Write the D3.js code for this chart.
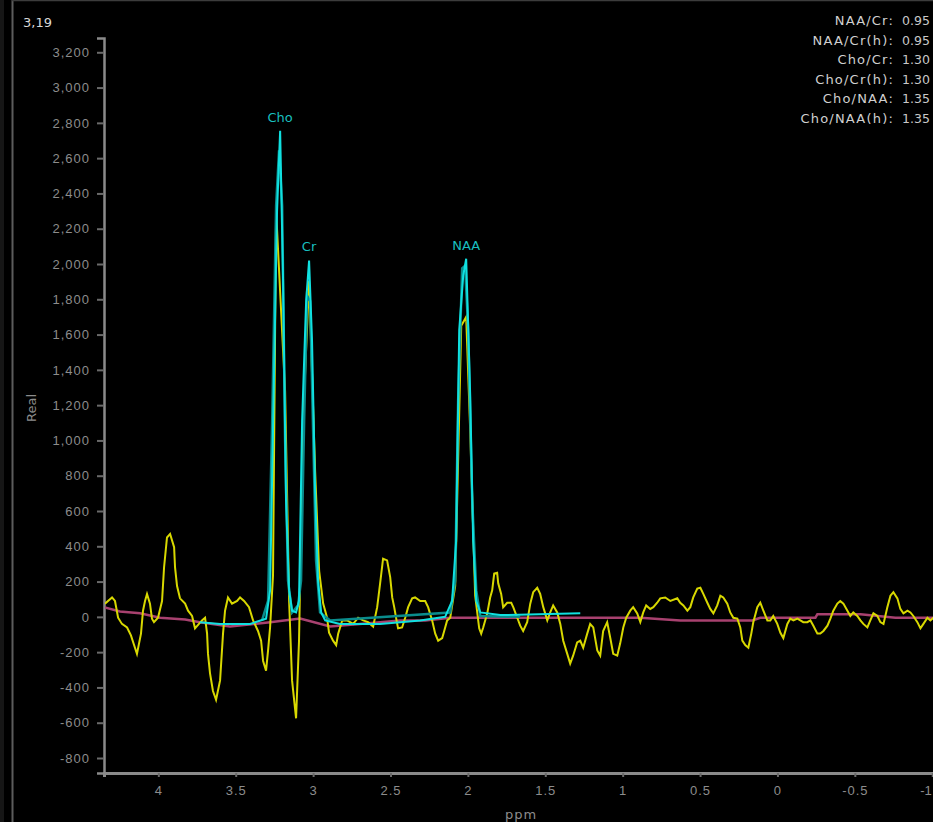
<!DOCTYPE html>
<html>
<head>
<meta charset="utf-8">
<script src="https://cdn.jsdelivr.net/npm/d3@7"></script>
<style>
  html, body { margin: 0; padding: 0; background: #000; overflow: hidden; }
  svg { display: block; }
</style>
</head>
<body>
<div id="chart"></div>
<script>
// ppm (x) / real (y)
const ppmTicks = [4, 3.5, 3, 2.5, 2, 1.5, 1, 0.5, 0, -0.5, -1];
const realTicks = [-800, -600, -400, -200, 0, 200, 400, 600, 800, 1000, 1200, 1400,
  1600, 1800, 2000, 2200, 2400, 2600, 2800, 3000, 3200];

// measured spectrum (yellow)
const specPpm = [4.345, 4.299, 4.280, 4.260, 4.235, 4.202, 4.177, 4.151, 4.138, 4.112, 4.099, 4.086,
  4.073, 4.054, 4.041, 4.028, 4.002, 3.976, 3.963, 3.944, 3.924, 3.898, 3.892, 3.879, 3.860, 3.827,
  3.808, 3.782, 3.763, 3.718, 3.698, 3.685, 3.679, 3.666, 3.647, 3.627, 3.601, 3.582, 3.569, 3.550,
  3.524, 3.491, 3.472, 3.446, 3.414, 3.388, 3.356, 3.336, 3.323, 3.304, 3.291, 3.278, 3.259, 3.239,
  3.181, 3.155, 3.136, 3.110, 3.091, 3.065, 3.026, 2.987, 2.961, 2.935, 2.922, 2.910, 2.897, 2.871,
  2.851, 2.838, 2.812, 2.780, 2.741, 2.709, 2.677, 2.645, 2.612, 2.586, 2.567, 2.548, 2.522, 2.502,
  2.489, 2.476, 2.463, 2.451, 2.425, 2.405, 2.386, 2.360, 2.341, 2.308, 2.276, 2.257, 2.231, 2.211,
  2.192, 2.166, 2.153, 2.134, 2.114, 2.082, 2.043, 2.011, 1.985, 1.953, 1.927, 1.914, 1.901, 1.875,
  1.856, 1.843, 1.830, 1.811, 1.804, 1.785, 1.772, 1.746, 1.720, 1.707, 1.681, 1.662, 1.643, 1.617,
  1.597, 1.578, 1.552, 1.533, 1.513, 1.487, 1.468, 1.449, 1.423, 1.403, 1.384, 1.358, 1.339, 1.320,
  1.294, 1.274, 1.255, 1.229, 1.210, 1.190, 1.164, 1.145, 1.126, 1.100, 1.080, 1.061, 1.035, 1.016,
  0.996, 0.977, 0.951, 0.932, 0.906, 0.886, 0.867, 0.848, 0.822, 0.802, 0.777, 0.757, 0.725, 0.692,
  0.647, 0.628, 0.608, 0.582, 0.563, 0.544, 0.518, 0.498, 0.479, 0.453, 0.434, 0.414, 0.389, 0.369,
  0.350, 0.324, 0.305, 0.285, 0.259, 0.240, 0.227, 0.208, 0.188, 0.169, 0.156, 0.130, 0.111, 0.091,
  0.065, 0.046, 0.027, 0.001, -0.019, -0.038, -0.064, -0.083, -0.103, -0.129, -0.148, -0.167, -0.193,
  -0.213, -0.232, -0.258, -0.277, -0.297, -0.323, -0.342, -0.361, -0.387, -0.406, -0.426, -0.452,
  -0.471, -0.490, -0.516, -0.536, -0.555, -0.581, -0.600, -0.620, -0.646, -0.665, -0.685, -0.710,
  -0.730, -0.749, -0.775, -0.794, -0.814, -0.840, -0.859, -0.878, -0.904, -0.924, -0.943, -0.969,
  -0.988, -1.021];
const specReal = [75, 110, 90, -5, -40, -60, -105, -175, -210, -95, 35, 90,
  130, 75, -10, -30, -5, 90, 280, 450, 470, 395, 280, 175, 105, 75,
  35, 5, -65, -20, -5, -95, -210, -320, -420, -470, -360, -95, 35, 110,
  75, 90, 110, 90, 55, -20, -80, -135, -250, -305, -190, -60, 235, 2300,
  1280, 90, -360, -575, -135, 1110, 1905, 825, 260, 75, 35, -5, -90, -135,
  -160, -95, -20, -20, -40, -5, -20, -30, -55, 55, 190, 330, 320, 225,
  110, 55, -10, -65, -60, -5, 55, 105, 110, 90, 90, 55, -20, -95,
  -135, -120, -80, -20, -5, 175, 1650, 1700, 1055, 120, -65, -95, -60, 20,
  110, 150, 245, 250, 190, 130, 55, 80, 80, 55, -5, -50, -80, -30,
  75, 140, 165, 130, 55, -20, 25, 65, 25, -40, -135, -210, -265, -220,
  -145, -135, -175, -95, -40, -60, -190, -220, -80, -30, -120, -210, -220, -150,
  -60, -5, 35, 55, 20, -30, 25, 65, 45, 55, 80, 105, 110, 90,
  105, 80, 65, 35, 55, 110, 160, 165, 130, 80, 45, 20, 65, 120,
  110, 75, 25, -5, -10, -60, -135, -160, -175, -95, -30, 55, 80, 35,
  -20, -20, 5, -40, -90, -120, -40, -10, -20, -10, -20, -30, -30,
  -20, -50, -95, -95, -80, -50, -10, 35, 75, 90, 75, 35,
  5, 25, 5, -20, -40, -60, -20, 20, 5, -30, -40, 55,
  120, 140, 105, 45, 20, 35, 25, 5, -30, -65, -40, -5,
  -20, 5];

// fitted spectrum (cyan)
const fitPpm = [3.731, 3.601, 3.407, 3.304, 3.278, 3.259, 3.233, 3.213, 3.194, 3.175, 3.155, 3.136,
  3.110, 3.091, 3.071, 3.045, 3.026, 3.007, 2.987, 2.968, 2.948, 2.922, 2.826, 2.567, 2.308, 2.147,
  2.102, 2.076, 2.056, 2.030, 2.011, 1.985, 1.966, 1.946, 1.920, 1.791, 1.274];
const fitReal = [-30, -40, -40, -10, 150, 1055, 2300, 2755, 1905, 660, 150, 35,
  25, 90, 1110, 1790, 2020, 1565, 715, 205, 25, -20, -40, -40, -20, 0,
  90, 430, 1625, 1935, 2030, 1255, 430, 90, 25, 10, 20];

// metabolite components (dark teal)
const compPpm = [3.330, 3.291, 3.265, 3.239, 3.220, 3.200, 3.181, 3.162, 3.136, 3.097, 3.078, 3.058,
  3.039, 3.019, 3.000, 2.981, 2.955, 2.890, 2.114, 2.082, 2.063, 2.037, 2.018, 1.998, 1.972, 1.946,
  1.920, 1.662];
const compReal = [-20, 90, 1085, 2330, 2645, 2330, 1000, 205, 25, 65, 205, 1110,
  1820, 1790, 1055, 320, 25, -20, 25, 205, 1225, 1975, 1990, 1625, 660, 150,
  5, 0];

// baseline (magenta)
const basePpm = [4.351, 4.248, 4.118, 3.989, 3.827, 3.731, 3.537, 3.278, 3.084, 2.890, 2.567, 2.438,
  2.276, 2.114, 1.727, 1.145, 0.886, 0.628, 0.305, 0.162, 0.111, -0.245, -0.258, -0.471, -0.536,
  -0.762, -1.021];
const baseReal = [55, 30, 20, -5, -15, -30, -55, -30, -10, -55, -30, -20,
  -20, -5, -5, -5, -5, -20, -20, -20, -5, -5, 15, 15, 15,
  -5, -5];

const peakNames = ["Cho", "Cr", "NAA"];
const peakPpm = [3.213, 3.026, 2.011];
const peakReal = [2755, 2020, 2030];

const ratioNames = ["NAA/Cr:", "NAA/Cr(h):", "Cho/Cr:", "Cho/Cr(h):", "Cho/NAA:", "Cho/NAA(h):"];
const ratioValues = ["0.95", "0.95", "1.30", "1.30", "1.35", "1.35"];

const width = 933, height = 822;
const margin = {top: 38, right: 0, bottom: 49, left: 104};

const x = d3.scaleLinear()
    .domain([4.351, -1.005])
    .range([margin.left, width - margin.right]);

const y = d3.scaleLinear()
    .domain([-885, 3281])
    .range([height - margin.bottom, margin.top]);

const svg = d3.create("svg")
    .attr("width", width)
    .attr("height", height)
    .attr("viewBox", [0, 0, width, height])
    .style("background", "#000")
    .style("font-family", "DejaVu Sans, sans-serif");

// panel frame
svg.append("rect").attr("x", 0).attr("y", 0).attr("width", 4).attr("height", height).attr("fill", "#161616");
svg.append("line").attr("x1", 12.5).attr("x2", 12.5).attr("y1", 0).attr("y2", height)
    .attr("stroke", "#5c5c5c").attr("stroke-width", 2);
svg.append("line").attr("x1", 12).attr("x2", width).attr("y1", 0.5).attr("y2", 0.5)
    .attr("stroke", "#3c3c3c").attr("stroke-width", 1.5);

svg.append("defs").append("clipPath").attr("id", "plot")
  .append("rect")
    .attr("x", margin.left + 1).attr("y", 0)
    .attr("width", width).attr("height", height - margin.bottom);

const xAxis = g => g
    .attr("transform", `translate(0,${height - margin.bottom})`)
    .call(d3.axisBottom(x).tickValues(ppmTicks).tickFormat(d => String(d)).tickSizeOuter(0).tickSize(4).tickPadding(9))
    .call(g => g.select(".domain").attr("stroke", "#8a8a8a").attr("stroke-width", 3))
    .call(g => g.selectAll(".tick line").attr("stroke", "#6a6a6a").attr("stroke-width", 2))
    .call(g => g.selectAll(".tick text")
        .attr("fill", "#8c8c8c").attr("font-size", 13).attr("letter-spacing", 1))
    // last label sits at the window edge, keep it inside
    .call(g => g.selectAll(".tick text").filter(d => d === -1)
        .attr("text-anchor", "end").attr("letter-spacing", 0).attr("dx", -1));

const yAxis = g => g
    .attr("transform", `translate(${margin.left},0)`)
    .call(d3.axisLeft(y).tickValues(realTicks)
        .tickFormat(d => d3.format(",")(d).replace("\u2212", "-"))
        .tickSizeOuter(0).tickSize(7).tickPadding(7))
    .call(g => g.select(".domain").attr("stroke", "#8a8a8a").attr("stroke-width", 2.5))
    .call(g => g.selectAll(".tick line").attr("stroke", "#6a6a6a").attr("stroke-width", 2))
    .call(g => g.selectAll(".tick text")
        .attr("fill", "#8c8c8c").attr("font-size", 13).attr("letter-spacing", 1));

svg.append("g").attr("class", "y-axis").call(yAxis);
svg.append("g").attr("class", "x-axis").call(xAxis);

const line = d3.line()
    .x(d => x(d[0]))
    .y(d => y(d[1]));

const series = [
  {ppm: basePpm, real: baseReal, color: "#a8416f", w: 2.5},
  {ppm: specPpm, real: specReal, color: "#d8d800", w: 2},
  {ppm: compPpm, real: compReal, color: "#0a8c8c", w: 2.5},
  {ppm: fitPpm, real: fitReal, color: "#10e0e0", w: 2}
];

svg.append("g")
    .attr("class", "lines")
    .attr("clip-path", "url(#plot)")
  .selectAll("path")
  .data(series)
  .join("path")
    .attr("fill", "none")
    .attr("stroke", d => d.color)
    .attr("stroke-width", d => d.w)
    .attr("stroke-linejoin", "miter")
    .attr("d", d => line(d.ppm.map((p, i) => [p, d.real[i]])));

// peak labels
svg.append("g")
  .selectAll("text")
  .data(peakNames)
  .join("text")
    .attr("x", (d, i) => x(peakPpm[i]))
    .attr("y", (d, i) => y(peakReal[i]) - 9)
    .attr("text-anchor", "middle")
    .attr("fill", "#19bfbf")
    .attr("font-size", 13)
    .text(d => d);

// ratio table, top right
const ratios = svg.append("g").attr("font-size", 13);
ratios.selectAll(".name")
  .data(ratioNames)
  .join("text")
    .attr("class", "name")
    .attr("x", 894)
    .attr("y", (d, i) => 25 + i * 19.6)
    .attr("text-anchor", "end")
    .attr("letter-spacing", 1.2)
    .attr("fill", "#d0d0d0")
    .text(d => d);
ratios.selectAll(".val")
  .data(ratioValues)
  .join("text")
    .attr("class", "val")
    .attr("x", 902)
    .attr("y", (d, i) => 25 + i * 19.6)
    .attr("font-size", 12.5)
    .attr("fill", "#c8c8c8")
    .text(d => d);

svg.append("text")
    .attr("x", 23).attr("y", 27)
    .attr("fill", "#d8d8d8")
    .attr("font-size", 13)
    .text("3,19");

svg.append("text")
    .attr("transform", "translate(36,408) rotate(-90)")
    .attr("text-anchor", "middle")
    .attr("fill", "#8c8c8c")
    .attr("font-size", 13)
    .text("Real");

svg.append("text")
    .attr("x", 521).attr("y", 819)
    .attr("text-anchor", "middle")
    .attr("fill", "#8c8c8c")
    .attr("font-size", 13)
    .attr("letter-spacing", 1)
    .text("ppm");

d3.select("#chart").append(() => svg.node());
</script>
</body>
</html>
